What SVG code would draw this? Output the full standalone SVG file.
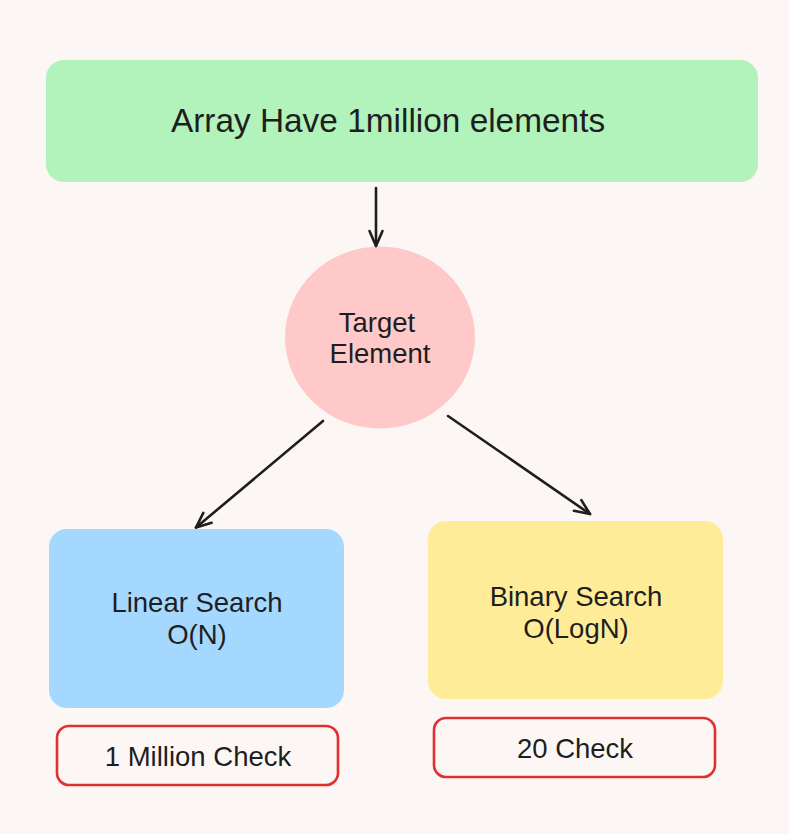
<svg xmlns="http://www.w3.org/2000/svg" width="789" height="834" viewBox="0 0 789 834">
<defs>
<style>
.t{font-family:"Liberation Sans",Arial,sans-serif;fill:#1e1e1e;text-anchor:middle;font-size:27.5px}
.c{stroke:#1e1e1e;stroke-width:2.6;fill:none;stroke-linecap:round;stroke-linejoin:round}
.r{fill:none;stroke:#e03131;stroke-width:2.6}
</style>
<marker id="ah" markerUnits="userSpaceOnUse" markerWidth="30" markerHeight="30" viewBox="-20 -15 30 30" refX="0" refY="0" orient="auto">
<path d="M -15 -6.5 L 0 0 L -15 6.5" stroke="#1e1e1e" stroke-width="2.6" fill="none" stroke-linecap="round" stroke-linejoin="round"/>
</marker>
</defs>
<rect width="789" height="834" fill="#fcf7f5"/>
<g id="array">
<rect x="46" y="60" width="712" height="122" rx="18" fill="#b2f2bb"/>
<text class="t" x="388" y="132" style="font-size:33.4px">Array Have 1million elements</text>
</g>
<g id="target">
<ellipse cx="380" cy="337.5" rx="95" ry="91" fill="#ffc9c9"/>
<text class="t" x="377" y="332">Target</text>
<text class="t" x="380" y="363">Element</text>
</g>
<g id="linear">
<rect x="49" y="529" width="295" height="179" rx="18" fill="#a5d8ff"/>
<text class="t" x="197" y="612">Linear Search</text>
<text class="t" x="197" y="644">O(N)</text>
</g>
<g id="binary">
<rect x="428" y="521" width="295" height="178" rx="18" fill="#ffec99"/>
<text class="t" x="576" y="606">Binary Search</text>
<text class="t" x="576" y="638">O(LogN)</text>
</g>
<g id="linear-check">
<rect class="r" x="57" y="726" width="281" height="59" rx="12"/>
<text class="t" x="198" y="766">1 Million Check</text>
</g>
<g id="binary-check">
<rect class="r" x="434" y="718" width="281" height="59" rx="12"/>
<text class="t" x="575" y="758">20 Check</text>
</g>
<g id="connectors">
<line class="c" x1="376" y1="188" x2="376" y2="246" marker-end="url(#ah)"/>
<line class="c" x1="323" y1="421" x2="196" y2="527.5" marker-end="url(#ah)"/>
<line class="c" x1="448" y1="416" x2="590" y2="514" marker-end="url(#ah)"/>
</g>
</svg>
